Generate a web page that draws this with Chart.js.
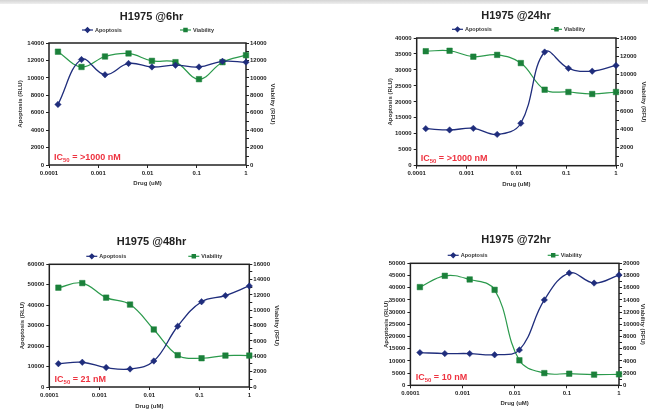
<!DOCTYPE html>
<html>
<head>
<meta charset="utf-8">
<script src="https://cdn.jsdelivr.net/npm/chart.js@4.4.1/dist/chart.umd.min.js"></script>
<style>
html, body { margin: 0; padding: 0; width: 648px; height: 410px; overflow: hidden; background: #fff; }
#topband { position: absolute; left: 0; top: 0; width: 648px; height: 4px; background: linear-gradient(#d4d4d4, #efefef); }
canvas { position: absolute; }
</style>
</head>
<body>
<div id="topband"></div>
<script>
// drug concentrations (uM), 3-fold dilution series
const drugConc = [0.000152, 0.000457, 0.00137, 0.00412, 0.0123, 0.037, 0.111, 0.333, 1];
const xTicks = [0.0001, 0.001, 0.01, 0.1, 1];

// 6 hr
const apoptosis6h = [6950, 12100, 10350, 11650, 11250, 11450, 11250, 11900, 11800];
const viability6h = [13000, 11250, 12450, 12800, 11950, 11800, 9850, 11800, 12600];
// 24 hr
const apoptosis24h = [11600, 11200, 11700, 9800, 13300, 35600, 30500, 29600, 31400];
const viability24h = [12550, 12600, 11950, 12150, 11250, 8330, 8080, 7860, 8080];
// 48 hr
const apoptosis48h = [11400, 12100, 9500, 8800, 12700, 29700, 41700, 44700, 49400];
const viability48h = [12950, 13550, 11650, 10750, 7500, 4150, 3750, 4100, 4100];
// 72 hr
const apoptosis72h = [13400, 13000, 13000, 12500, 14500, 35000, 46000, 41900, 45200];
const viability72h = [16100, 17950, 17350, 15650, 4100, 2000, 1900, 1750, 1800];

const titles = ['H1975 @6hr', 'H1975 @24hr', 'H1975 @48hr', 'H1975 @72hr'];
const ic50Labels = ['>1000 nM', '>1000 nM', '21 nM', '10 nM'];
// left axis max / step, right axis max / step
const leftAxis = [[14000, 2000], [40000, 5000], [60000, 10000], [50000, 5000]];
const rightAxis = [[14000, 2000], [14000, 2000], [16000, 2000], [20000, 2000]];

const FONT = '"Liberation Sans", Arial, sans-serif';
const BLUE = '#1f2d7c';
const GREEN_LINE = '#2b9a4c';
const GREEN_PT = '#1b803a';

// geometry of each panel in page pixels
const layouts = [
  { top: 0, plot: [49, 246, 43, 165], titleX: 151.5, titleY: 17, yTitleX: 20, y1TitleX: 273, xTitleY: 183, legendY: 30, legendX: [82, 180], icX: 54 },
  { top: 0, plot: [416.7, 616, 38, 165.7], titleX: 516, titleY: 15.7, yTitleX: 390, y1TitleX: 644, xTitleY: 184, legendY: 29.3, legendX: [452, 551], icX: 420.7 },
  { top: 205, plot: [49, 249, 264.3, 387], titleX: 151, titleY: 241.7, yTitleX: 21.7, y1TitleX: 276.7, xTitleY: 406.7, legendY: 256.3, legendX: [86, 188], icX: 54.3 },
  { top: 205, plot: [410.7, 619.3, 263.3, 385.3], titleX: 516.5, titleY: 240.3, yTitleX: 386.3, y1TitleX: 643.3, xTitleY: 403, legendY: 255.3, legendX: [448, 548], icX: 416 }
];

// frame, legend and IC50 note
const panelDecor = {
  id: 'panelDecor',
  beforeDatasetsDraw(chart) {
    const a = chart.chartArea, ctx = chart.ctx;
    ctx.save();
    ctx.strokeStyle = '#222';
    ctx.lineWidth = 1.5;
    ctx.strokeRect(a.left, a.top, a.right - a.left, a.bottom - a.top);
    ctx.restore();
  },
  afterDraw(chart, args, opts) {
    const ctx = chart.ctx, a = chart.chartArea;
    ctx.save();
    chart.data.datasets.forEach((ds, i) => {
      const x = opts.legendX[i], y = opts.legendY;
      ctx.strokeStyle = ds.borderColor;
      ctx.lineWidth = 1.2;
      ctx.beginPath();
      ctx.moveTo(x, y);
      ctx.lineTo(x + 11, y);
      ctx.stroke();
      ctx.fillStyle = ds.pointBackgroundColor;
      ctx.strokeStyle = ds.pointBorderColor;
      Chart.helpers.drawPoint(ctx, { pointStyle: ds.pointStyle, radius: 2.3, borderWidth: 0.5 }, x + 5.5, y);
      ctx.fillStyle = '#333';
      ctx.font = 'bold 5.5px ' + FONT;
      ctx.textBaseline = 'middle';
      ctx.fillText(ds.label, x + 13, y);
    });

    let x = opts.icX, y = a.bottom - 5;
    ctx.fillStyle = '#ee3340';
    ctx.textBaseline = 'alphabetic';
    ctx.font = 'bold 9px ' + FONT;
    ctx.fillText('IC', x, y);
    x += ctx.measureText('IC').width;
    ctx.font = 'bold 6px ' + FONT;
    ctx.fillText('50', x, y + 2);
    x += ctx.measureText('50').width;
    ctx.font = 'bold 9px ' + FONT;
    ctx.fillText(' = ' + opts.ic50, x, y);
    ctx.restore();
  }
};

function makePanel(g, title, apo, via, ic50, left, right) {
  const H = 205;
  const X0 = g.yTitleX - 10;
  const W = Math.round(2 * (g.titleX - X0));
  const L = g.plot[0] - X0, R = g.plot[1] - X0;
  const T = g.plot[2] - g.top, B = g.plot[3] - g.top;
  const tY = g.titleY - g.top;

  const canvas = document.createElement('canvas');
  canvas.width = W;
  canvas.height = H;
  canvas.style.left = X0 + 'px';
  canvas.style.top = g.top + 'px';
  document.body.appendChild(canvas);

  const tickFont = { family: FONT, size: 6, weight: 'bold' };
  const axisTitleFont = { family: FONT, size: 6, weight: 'bold' };

  new Chart(canvas.getContext('2d'), {
    type: 'line',
    data: {
      datasets: [
        {
          label: 'Apoptosis',
          data: drugConc.map((c, i) => ({ x: c, y: apo[i] })),
          yAxisID: 'y',
          borderColor: BLUE,
          borderWidth: 1.3,
          pointStyle: 'rectRot',
          pointRadius: 3.2,
          pointBackgroundColor: BLUE,
          pointBorderColor: BLUE,
          pointBorderWidth: 0.5,
          tension: 0.4,
          clip: false
        },
        {
          label: 'Viability',
          data: drugConc.map((c, i) => ({ x: c, y: via[i] })),
          yAxisID: 'y1',
          borderColor: GREEN_LINE,
          borderWidth: 1.2,
          pointStyle: 'rect',
          pointRadius: 3.9,
          pointBackgroundColor: GREEN_PT,
          pointBorderColor: GREEN_PT,
          pointBorderWidth: 0.5,
          tension: 0.4,
          clip: false
        }
      ]
    },
    options: {
      responsive: false,
      animation: false,
      layout: { padding: 0 },
      plugins: {
        legend: { display: false },
        tooltip: { enabled: false },
        title: {
          display: true,
          text: title,
          color: '#222',
          font: { family: FONT, size: 11, weight: 'bold' },
          padding: { top: tY - 6.6, bottom: T - tY - 6.6 }
        },
        panelDecor: {
          legendX: g.legendX.map(v => v - X0),
          legendY: g.legendY - g.top,
          icX: g.icX - X0,
          ic50: ic50
        }
      },
      scales: {
        x: {
          type: 'logarithmic',
          min: 0.0001,
          max: 1,
          afterBuildTicks: s => { s.ticks = xTicks.map(v => ({ value: v })); },
          afterFit: s => { s.height = H - B; },
          ticks: { callback: v => String(v), autoSkip: false, maxRotation: 0, padding: 1.5, color: '#222', font: tickFont },
          grid: { display: true, drawOnChartArea: false, tickLength: 3, color: '#222' },
          border: { display: false },
          title: { display: true, text: 'Drug (uM)', color: '#333', font: axisTitleFont, padding: { top: 0, bottom: (H - (g.xTitleY - g.top)) - 3.6 } }
        },
        y: {
          position: 'left',
          min: 0,
          max: left[0],
          afterFit: s => { s.width = L; },
          ticks: { stepSize: left[1], callback: v => String(v), autoSkip: false, padding: 2, color: '#222', font: tickFont },
          grid: { display: true, drawOnChartArea: false, tickLength: 3, color: '#222' },
          border: { display: false },
          title: { display: true, text: 'Apoptosis (RLU)', color: '#333', font: axisTitleFont, padding: { top: 10 - 3.6, bottom: 0 } }
        },
        y1: {
          position: 'right',
          min: 0,
          max: right[0],
          afterFit: s => { s.width = W - R; },
          ticks: {
            stepSize: right[1] / 2,
            callback: v => (v % right[1] === 0 ? String(v) : ''),
            autoSkip: false, padding: 1, color: '#222', font: tickFont
          },
          grid: { display: true, drawOnChartArea: false, tickLength: 3, color: '#222' },
          border: { display: false },
          title: { display: true, text: 'Viability (RFU)', color: '#333', font: axisTitleFont, padding: { top: (X0 + W - g.y1TitleX) - 3.6, bottom: 0 } }
        }
      }
    },
    plugins: [panelDecor]
  });
}

makePanel(layouts[0], titles[0], apoptosis6h, viability6h, ic50Labels[0], leftAxis[0], rightAxis[0]);
makePanel(layouts[1], titles[1], apoptosis24h, viability24h, ic50Labels[1], leftAxis[1], rightAxis[1]);
makePanel(layouts[2], titles[2], apoptosis48h, viability48h, ic50Labels[2], leftAxis[2], rightAxis[2]);
makePanel(layouts[3], titles[3], apoptosis72h, viability72h, ic50Labels[3], leftAxis[3], rightAxis[3]);
</script>
</body>
</html>
